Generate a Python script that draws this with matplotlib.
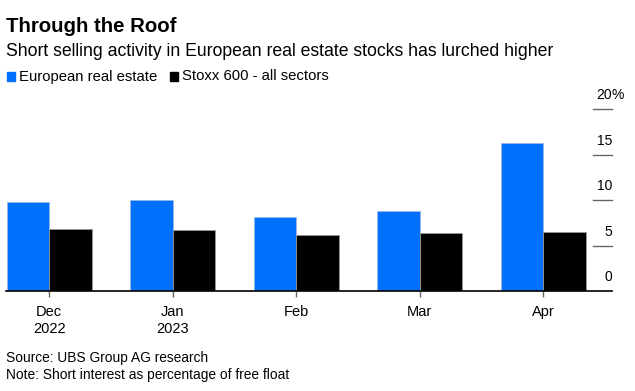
import matplotlib
matplotlib.use("Agg")
import matplotlib.pyplot as plt
import numpy as np

plt.rcParams['font.family'] = ['Liberation Sans', 'DejaVu Sans']

categories = ["Dec\n2022", "Jan\n2023", "Feb", "Mar", "Apr"]
real_estate = [9.75, 10.0, 8.1, 8.8, 16.3]
stoxx600 = [6.8, 6.7, 6.15, 6.45, 6.55]
yticks = [0, 5, 10, 15, 20]
ytick_labels = ["0", "5", "10", "15", "20"]

BLUE = "#0070FF"
W, H = 635, 391
fig = plt.figure(figsize=(W/100, H/100), dpi=100)

ax_left, ax_right = 6, 612
ax_bottom, ax_top = 291.3, 109
ax = fig.add_axes([ax_left/W, (H-ax_bottom)/H, (ax_right-ax_left)/W, (ax_bottom-ax_top)/H])

x = np.arange(len(categories))
bw = 0.345
ax.bar(x - bw/2, real_estate, bw, color=BLUE, edgecolor="#9ab8e8", linewidth=0.6, label="European real estate")
ax.bar(x + bw/2, stoxx600, bw, color="black", edgecolor="#999999", linewidth=0.6, label="Stoxx 600 - all sectors")

ax.set_xlim(-0.35, 4.556)
ax.set_ylim(0, 20)
for s in ["top", "right", "left"]:
    ax.spines[s].set_visible(False)
ax.spines["bottom"].set_color("black")
ax.spines["bottom"].set_linewidth(1.2)
ax.set_yticks([])
ax.set_xticks(x)
ax.set_xticklabels(categories, fontsize=10.5, linespacing=1.3)
ax.tick_params(axis="x", length=4, width=1, color="#666666", pad=6)

# right-side y tick marks and labels
for v, lab in zip(yticks, ytick_labels):
    yp = ax.transData.transform((0, v))[1]
    fy = yp / H
    if v > 0:
        fig.add_artist(plt.Line2D([593/W, 612/W], [fy, fy], color="#666666", linewidth=1.0))
    fig.text(612/W, fy + 7/H, lab, ha="right", va="bottom", fontsize=10)
    if v == 20:
        fig.text(612/W, fy + 7/H, "%", ha="left", va="bottom", fontsize=10)

# Title and subtitle
fig.text(6/W, 1 - 26/H, "Through the Roof", fontsize=14.7, fontweight="bold", va="center", ha="left")
fig.text(6/W, 1 - 51/H, "Short selling activity in European real estate stocks has lurched higher",
         fontsize=12.7, va="center", ha="left")

# legend
fig.add_artist(plt.Rectangle((7/W, 1 - 81/H), 8/W, 9/H, color=BLUE, transform=fig.transFigure))
fig.text(19/W, 1 - 76.5/H, "European real estate", fontsize=10.7, va="center", ha="left")
fig.add_artist(plt.Rectangle((170/W, 1 - 81/H), 8/W, 9/H, color="black", transform=fig.transFigure))
fig.text(182/W, 1 - 76.5/H, "Stoxx 600 - all sectors", fontsize=10.7, va="center", ha="left")

# footer
fig.text(6/W, 1 - 358/H, "Source: UBS Group AG research", fontsize=9.9, va="center", ha="left")
fig.text(6/W, 1 - 375/H, "Note: Short interest as percentage of free float", fontsize=9.9, va="center", ha="left")

fig.savefig("out.png", dpi=100)
